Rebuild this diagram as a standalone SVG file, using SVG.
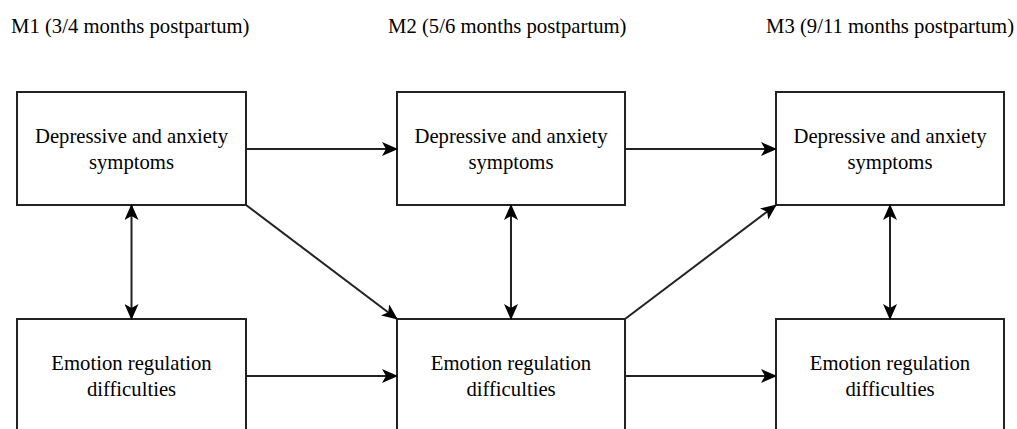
<svg xmlns="http://www.w3.org/2000/svg" width="1017" height="429" viewBox="0 0 1017 429">
<style>
text{font-family:'Liberation Serif','Times New Roman',Times,serif;font-size:20.7px;fill:#000}
.c{text-anchor:middle}
.box{fill:#fff;stroke:#222;stroke-width:2}
.ln{fill:none;stroke:#222;stroke-width:2}
</style>
<defs>
<marker id="ah" viewBox="0 0 16 14" refX="15" refY="7" markerWidth="16" markerHeight="14" markerUnits="userSpaceOnUse" orient="auto-start-reverse">
<path d="M0,0 L16,7 L0,14 L4,7 Z" fill="#000"/>
</marker>
</defs>
<rect width="1017" height="429" fill="#fff"/>
<g id="headers" font-family="Liberation Serif, Times New Roman, serif">
<text x="11" y="33">M1 (3/4 months postpartum)</text>
<text x="388" y="33">M2 (5/6 months postpartum)</text>
<text x="766" y="33">M3 (9/11 months postpartum)</text>
</g>
<g id="n1">
<rect class="box" x="17" y="92" width="229" height="113"/>
<text class="c" x="131.5" y="143">Depressive and anxiety</text>
<text class="c" x="131.5" y="169">symptoms</text>
</g>
<g id="n2">
<rect class="box" x="397" y="92" width="228" height="113"/>
<text class="c" x="511" y="143">Depressive and anxiety</text>
<text class="c" x="511" y="169">symptoms</text>
</g>
<g id="n3">
<rect class="box" x="776" y="92" width="228" height="113"/>
<text class="c" x="890" y="143">Depressive and anxiety</text>
<text class="c" x="890" y="169">symptoms</text>
</g>
<g id="n4">
<rect class="box" x="17" y="319" width="229" height="120"/>
<text class="c" x="131.5" y="370">Emotion regulation</text>
<text class="c" x="131.5" y="396">difficulties</text>
</g>
<g id="n5">
<rect class="box" x="397" y="319" width="228" height="120"/>
<text class="c" x="511" y="370">Emotion regulation</text>
<text class="c" x="511" y="396">difficulties</text>
</g>
<g id="n6">
<rect class="box" x="776" y="319" width="228" height="120"/>
<text class="c" x="890" y="370">Emotion regulation</text>
<text class="c" x="890" y="396">difficulties</text>
</g>
<g id="connectors">
<line class="ln" x1="246" y1="149" x2="397" y2="149" marker-end="url(#ah)"/>
<line class="ln" x1="625" y1="149" x2="776" y2="149" marker-end="url(#ah)"/>
<line class="ln" x1="246" y1="376" x2="397" y2="376" marker-end="url(#ah)"/>
<line class="ln" x1="625" y1="376" x2="776" y2="376" marker-end="url(#ah)"/>
<line class="ln" x1="246" y1="205" x2="397" y2="319" marker-end="url(#ah)"/>
<line class="ln" x1="625" y1="319" x2="776" y2="205" marker-end="url(#ah)"/>
<line class="ln" x1="131.5" y1="205" x2="131.5" y2="319" marker-start="url(#ah)" marker-end="url(#ah)"/>
<line class="ln" x1="511" y1="205" x2="511" y2="319" marker-start="url(#ah)" marker-end="url(#ah)"/>
<line class="ln" x1="890" y1="205" x2="890" y2="319" marker-start="url(#ah)" marker-end="url(#ah)"/>
</g>
</svg>
